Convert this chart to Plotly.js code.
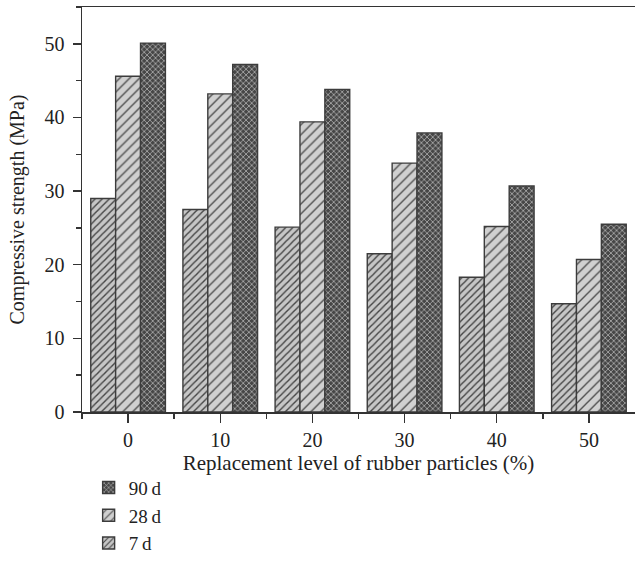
<!DOCTYPE html>
<html>
<head>
<meta charset="utf-8">
<script src="https://cdn.plot.ly/plotly-3.0.1.min.js"></script>
<style>
  html, body { margin: 0; padding: 0; background: #fff; }
  #chart { width: 635px; height: 574px; }
</style>
</head>
<body>
<div id="chart"></div>
<script>
// Replacement level of rubber particles (%)
const levels = [0, 10, 20, 30, 40, 50];

// Compressive strength (MPa) by curing age
const strength7d  = [29.0, 27.5, 25.1, 21.5, 18.3, 14.7];
const strength28d = [45.6, 43.2, 39.4, 33.8, 25.2, 20.7];
const strength90d = [50.1, 47.2, 43.8, 37.9, 30.7, 25.5];

const serif = 'Liberation Serif, Times New Roman, serif';
const ink = '#222';
const edge = { color: '#3c3c3c', width: 1.4 };

const traces = [
  {
    type: 'bar', name: '7\u2009d', x: levels, y: strength7d,
    marker: {
      color: '#c4c4c4', line: edge,
      pattern: { shape: '/', bgcolor: '#c6c6c6', fgcolor: '#444444', size: 5, solidity: 0.28, fillmode: 'replace' }
    }
  },
  {
    type: 'bar', name: '28\u2009d', x: levels, y: strength28d,
    marker: {
      color: '#cdcdcd', line: edge,
      pattern: { shape: '/', bgcolor: '#d0d0d0', fgcolor: '#505050', size: 7, solidity: 0.2, fillmode: 'replace' }
    }
  },
  {
    type: 'bar', name: '90\u2009d', x: levels, y: strength90d,
    marker: {
      color: '#555555', line: edge,
      pattern: { shape: 'x', bgcolor: '#464646', fgcolor: '#c8c8c8', size: 4, solidity: 0.3, fillmode: 'replace' }
    }
  }
];

const layout = {
  width: 635, height: 574,
  margin: { l: 82, r: 0, t: 7, b: 162 },
  paper_bgcolor: '#ffffff', plot_bgcolor: '#ffffff',
  font: { family: serif, size: 20, color: ink },
  barmode: 'group', bargap: 0.19, bargroupgap: 0,
  showlegend: true,
  legend: {
    x: 0.012, xanchor: 'left', y: -0.14, yanchor: 'top',
    traceorder: 'reversed', orientation: 'v',
    font: { family: serif, size: 19, color: ink },
    tracegroupgap: 0, itemwidth: 30, bgcolor: 'rgba(0,0,0,0)'
  },
  xaxis: {
    range: [-5, 55], tickmode: 'array', tickvals: levels, ticktext: levels.map(String),
    ticks: 'outside', ticklen: 9, tickwidth: 1.4, tickcolor: '#333',
    minor: { tickvals: [-5, 5, 15, 25, 35, 45], ticks: 'outside', ticklen: 5, tickwidth: 1.4, tickcolor: '#333' },
    showline: true, linecolor: '#333', linewidth: 1.5, mirror: true,
    showgrid: false, zeroline: false,
    tickfont: { family: serif, size: 20, color: ink },
    title: { text: 'Replacement level of rubber particles (%)', font: { family: serif, size: 21, color: ink }, standoff: 6 }
  },
  yaxis: {
    range: [0, 55], dtick: 10, tick0: 0,
    ticks: 'outside', ticklen: 8, tickwidth: 1.4, tickcolor: '#333',
    minor: { dtick: 5, ticks: 'outside', ticklen: 5, tickwidth: 1.4, tickcolor: '#333' },
    showline: true, linecolor: '#333', linewidth: 1.5,
    showgrid: false, zeroline: false,
    ticklabelstandoff: 4,
    tickfont: { family: serif, size: 20, color: ink },
    title: { text: 'Compressive strength (MPa)', font: { family: serif, size: 20, color: ink }, standoff: 14 }
  }
};

Plotly.newPlot('chart', traces, layout, { displayModeBar: false, staticPlot: true });
</script>
</body>
</html>
